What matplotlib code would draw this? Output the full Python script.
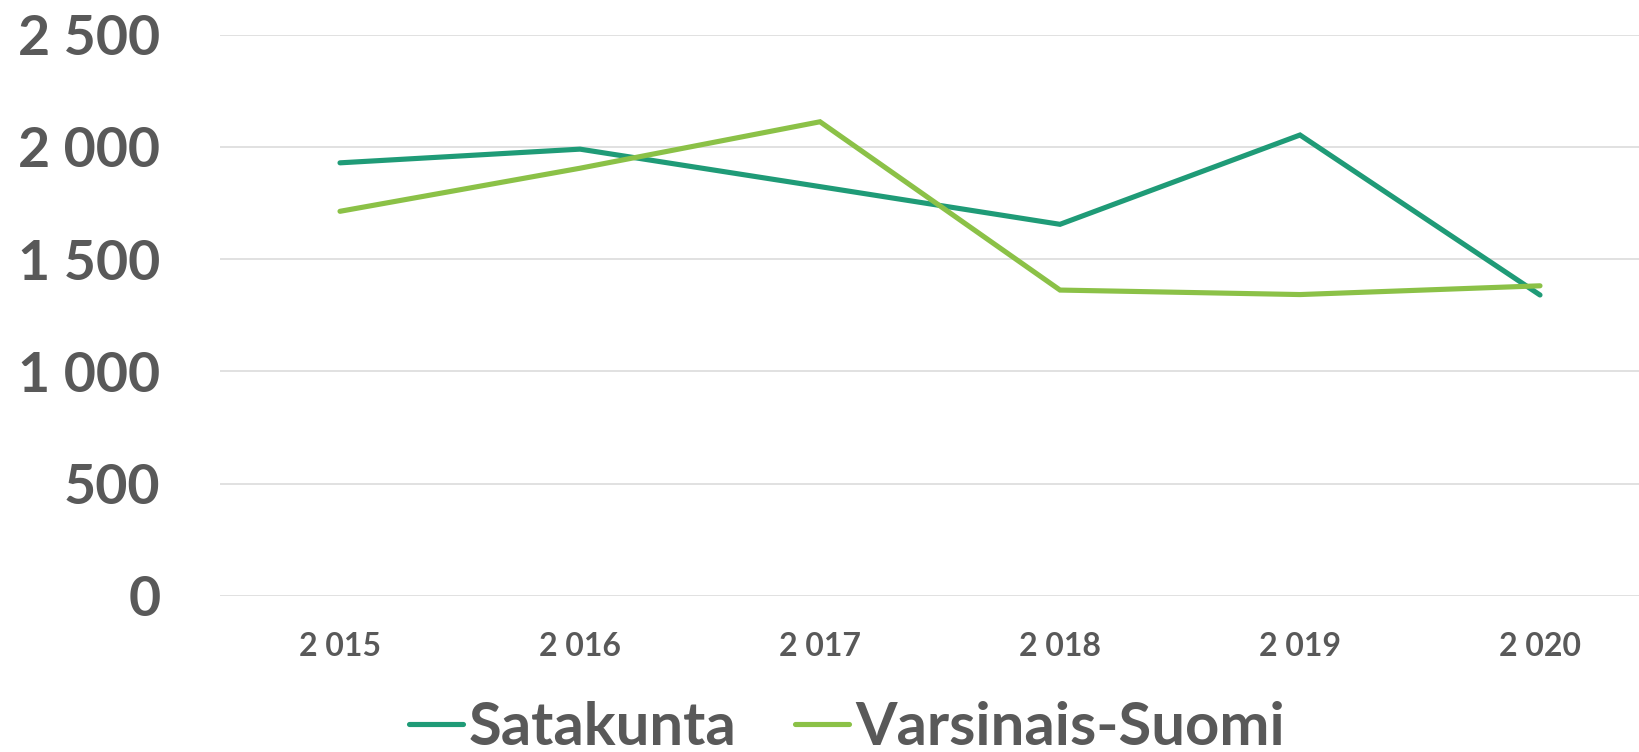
import matplotlib.pyplot as plt
from matplotlib.ticker import FuncFormatter

years = [2015, 2016, 2017, 2018, 2019, 2020]
year_labels = ['2 015', '2 016', '2 017', '2 018', '2 019', '2 020']
satakunta = [1929, 1990, 1823, 1655, 2053, 1340]
varsinais_suomi = [1713, 1905, 2112, 1362, 1342, 1381]

TEXT = '#595959'


def init():
    plt.rcParams['font.family'] = ['Lato', 'DejaVu Sans']
    plt.rcParams['font.weight'] = 'bold'
    fig = plt.figure(figsize=(16.4, 7.52), dpi=100)
    ax = fig.add_axes([220 / 1640, 1 - 595.7 / 752, 1440 / 1640, (595.7 - 34.7) / 752])

    x = list(range(len(years)))
    ax.plot(x, satakunta, color='#1F9B77', lw=3.7, solid_capstyle='round',
            solid_joinstyle='miter', label='Satakunta')
    ax.plot(x, varsinais_suomi, color='#8BC147', lw=3.7, solid_capstyle='round',
            solid_joinstyle='miter', label='Varsinais-Suomi')

    ax.set_xlim(-0.5, len(years) - 0.5)
    ax.set_ylim(0, 2500)
    ax.set_yticks(range(0, 2501, 500))
    ax.yaxis.set_major_formatter(FuncFormatter(lambda v, p: '{:,}'.format(int(v)).replace(',', ' ')))
    ax.set_xticks(x)
    ax.set_xticklabels(year_labels)

    ax.grid(axis='y', color='#D9D9D9', lw=1.1)
    ax.set_axisbelow(True)
    for s in ax.spines.values():
        s.set_visible(False)
    ax.tick_params(axis='y', length=0, pad=43, labelsize=40, labelcolor=TEXT)
    ax.tick_params(axis='x', length=0, pad=26, labelsize=23, labelcolor=TEXT)

    fig.legend(loc='center', bbox_to_anchor=(847 / 1640, 1 - 728 / 752), ncol=2,
               frameon=False, fontsize=43, labelcolor=TEXT, handlelength=0.9,
               handletextpad=0.1, columnspacing=0.98, borderpad=0, borderaxespad=0)

    plt.savefig('out.png', dpi=100)


if __name__ == '__main__':
    init()
